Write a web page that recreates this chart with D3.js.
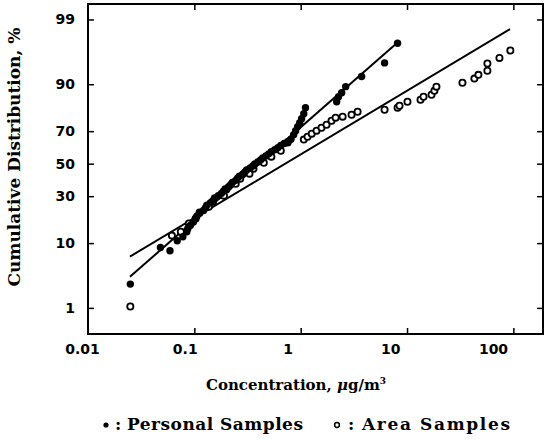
<!DOCTYPE html>
<html><head><meta charset="utf-8">
<script src="https://cdn.jsdelivr.net/npm/d3@7"></script>
<style>body{margin:0;background:#fff}svg{display:block}</style>
</head><body><svg id="c" width="544" height="440"></svg>
<script>
// ---- data ----
const xTicks = [0.01, 0.1, 1, 10, 100];
const xTickLabels = ["0.01", "0.1", "1", "10", "100"];
const yTicks = [1, 10, 30, 50, 70, 90, 99];
const seriesNames = ["Personal Samples", "Area Samples"];

const personalConc = [0.025, 0.048, 0.059, 0.069, 0.078,
  0.085, 0.087, 0.092, 0.098, 0.102, 0.106, 0.112, 0.122, 0.127, 0.131, 0.142, 0.150, 0.155, 0.168, 0.180, 0.188, 0.195, 0.210, 0.220, 0.228, 0.245, 0.255, 0.265, 0.285, 0.298, 0.310, 0.335, 0.355, 0.370, 0.395, 0.420, 0.440, 0.470, 0.500, 0.530, 0.570, 0.610, 0.650, 0.700, 0.760, 0.810,
  0.859, 0.897, 0.937, 0.98, 1.02, 1.07, 1.11, 2.18, 2.27, 2.43, 2.65, 3.74, 6.15, 8.15];
const personalPct  = [2.6, 8.8, 8.0, 10.7, 11.9,
  13.6, 14.8, 16.0, 17.3, 18.6, 19.9, 21.2, 22.5, 23.8, 25.1, 26.4, 27.7, 29.0, 30.3, 31.6, 32.9, 34.2, 35.5, 36.8, 38.1, 39.4, 40.7, 42.0, 43.3, 44.6, 45.9, 47.2, 48.5, 49.8, 51.1, 52.4, 53.7, 55.0, 56.3, 57.6, 58.9, 60.2, 61.5, 62.8, 64.0, 65.3,
  68.0, 70.3, 72.5, 74.6, 76.6, 79.0, 81.7, 84.1, 86.0, 87.4, 89.3, 92.0, 94.8, 97.4];

const areaConc = [0.025, 0.0615, 0.0746, 0.0887, 0.103, 0.112, 0.137, 0.150, 0.190, 0.200, 0.245, 0.270, 0.330, 0.360, 0.450, 0.530, 0.650, 0.755, 1.07, 1.16, 1.27, 1.41, 1.57, 1.75, 1.95, 2.13, 2.48, 3.01, 3.43, 6.15, 8.15, 8.5, 10.1, 13.4, 14.3, 17.0, 18.1, 18.9, 33.2, 43.0, 46.9, 57.0, 57.0, 74.0, 93.7];
const areaPct  = [1.06, 12.3, 13.6, 16.7, 18.8, 21.5, 24.4, 27.0, 30.3, 33.8, 37.3, 40.4, 43.6, 46.8, 50.6, 54.5, 58.3, 63.3, 65.1, 66.8, 68.6, 70.3, 71.9, 73.5, 75.6, 77.1, 77.6, 78.5, 79.9, 80.8, 81.7, 82.5, 84.1, 84.9, 86.0, 86.7, 88.0, 89.3, 90.4, 91.5, 92.4, 93.3, 94.7, 95.6, 96.6];

const personalFitConc = [0.0248, 8.0];
const personalFitPct  = [3.4, 97.4];
const areaFitConc = [0.0248, 93];
const areaFitPct  = [6.7, 98.5];

// ---- probit (inverse normal CDF, Acklam) ----
function probit(p){
  const a=[-3.969683028665376e+01,2.209460984245205e+02,-2.759285104469687e+02,1.383577518672690e+02,-3.066479806614716e+01,2.506628277459239e+00];
  const b=[-5.447609879822406e+01,1.615858368580409e+02,-1.556989798598866e+02,6.680131188771972e+01,-1.328068155288572e+01];
  const c=[-7.784894002430293e-03,-3.223964580411365e-01,-2.400758277161838e+00,-2.549732539343734e+00,4.374664141464968e+00,2.938163982698783e+00];
  const d=[7.784695709041462e-03,3.224671290700398e-01,2.445134137142996e+00,3.754408661907416e+00];
  const pl=0.02425, ph=1-pl; let q,r;
  if(p<pl){q=Math.sqrt(-2*Math.log(p));return (((((c[0]*q+c[1])*q+c[2])*q+c[3])*q+c[4])*q+c[5])/((((d[0]*q+d[1])*q+d[2])*q+d[3])*q+1);}
  if(p<=ph){q=p-0.5;r=q*q;return (((((a[0]*r+a[1])*r+a[2])*r+a[3])*r+a[4])*r+a[5])*q/(((((b[0]*r+b[1])*r+b[2])*r+b[3])*r+b[4])*r+1);}
  q=Math.sqrt(-2*Math.log(1-p));return -(((((c[0]*q+c[1])*q+c[2])*q+c[3])*q+c[4])*q+c[5])/((((d[0]*q+d[1])*q+d[2])*q+d[3])*q+1);
}

// ---- layout ----
const L=88, R=543, T=4, B=334;
const svg = d3.select('#c');
const x = d3.scaleLog().domain([0.01, 190]).range([L, R]);
const xLab = d3.scaleLog().domain([0.01, 100]).range([82, 493]); // label placement as printed
const yz = d3.scaleLinear().domain([probit(0.003), probit(0.995)]).range([B, T]);
const y = p => yz(probit(p/100));

const tickFont = "bold 14px 'DejaVu Sans'";
const serifFont = "'DejaVu Serif'";

// axes
const zT = yTicks.map(p => probit(p/100));
const gL = svg.append('g').attr('transform',`translate(${L},0)`)
  .call(d3.axisLeft(yz).tickValues(zT).tickFormat((d,i)=>yTicks[i]).tickSizeInner(-6).tickSizeOuter(0).tickPadding(13));
const gR = svg.append('g').attr('transform',`translate(${R},0)`)
  .call(d3.axisRight(yz).tickValues(zT).tickFormat('').tickSizeInner(-6).tickSizeOuter(0));
const gB = svg.append('g').attr('transform',`translate(0,${B})`)
  .call(d3.axisBottom(x).tickValues(xTicks.slice(1)).tickFormat('').tickSizeInner(-6).tickSizeOuter(0));
const gBL = svg.append('g').attr('transform',`translate(0,${B})`)
  .call(d3.axisBottom(xLab).tickValues(xTicks).tickFormat((d,i)=>xTickLabels[i]).tickSize(0).tickPadding(10));
gBL.selectAll('.tick line').remove();
const gT = svg.append('g').attr('transform',`translate(0,${T})`)
  .call(d3.axisTop(x).tickValues(xTicks.slice(1)).tickFormat('').tickSizeInner(-6).tickSizeOuter(0));
[gL,gR,gB,gBL,gT].forEach(g=>{
  g.select('.domain').remove();
  g.selectAll('.tick line').attr('stroke','#000').attr('stroke-width',1.5);
  g.selectAll('text').style('font',tickFont).attr('fill','#000');
});

svg.append('rect').attr('x',L).attr('y',T).attr('width',R-L).attr('height',B-T)
  .attr('fill','none').attr('stroke','#000').attr('stroke-width',2);

// fit lines
const line = d3.line().x(d=>x(d[0])).y(d=>y(d[1]));
svg.append('path').attr('d', line(d3.zip(personalFitConc, personalFitPct)))
  .attr('fill','none').attr('stroke','#000').attr('stroke-width',2);
svg.append('path').attr('d', line(d3.zip(areaFitConc, areaFitPct)))
  .attr('fill','none').attr('stroke','#000').attr('stroke-width',2);

// points
svg.append('g').selectAll('circle').data(d3.zip(areaConc, areaPct)).join('circle')
  .attr('cx',d=>x(d[0])).attr('cy',d=>y(d[1])).attr('r',3.1)
  .attr('fill','#fff').attr('stroke','#000').attr('stroke-width',1.8);
svg.append('g').selectAll('circle').data(d3.zip(personalConc, personalPct)).join('circle')
  .attr('cx',d=>x(d[0])).attr('cy',d=>y(d[1])).attr('r',3.7).attr('fill','#000');

// titles
svg.append('text').attr('x',296).attr('y',390).attr('text-anchor','middle')
  .style('font-family',serifFont).style('font-weight','bold').style('font-size','15px')
  .html('Concentration, <tspan font-style="italic">μ</tspan>g/m<tspan dy="-6" font-size="9px">3</tspan>');
svg.append('text').attr('transform','translate(20,157) rotate(-90)').attr('text-anchor','middle')
  .style('font-family',serifFont).style('font-weight','bold').style('font-size','17px')
  .text('Cumulative Distribution, %');

// legend
const lg = svg.append('g');
const legFont = g => g.style('font-family',serifFont).style('font-weight','bold').style('font-size','17px');
lg.append('circle').attr('cx',106).attr('cy',425).attr('r',2.6).attr('fill','#000');
lg.append('text').attr('x',115).attr('y',430).call(legFont).text(':');
lg.append('text').attr('x',127).attr('y',430).call(legFont)
  .attr('textLength',176).attr('lengthAdjust','spacing').text(seriesNames[0]);
lg.append('circle').attr('cx',337).attr('cy',425).attr('r',2.4).attr('fill','#fff').attr('stroke','#000').attr('stroke-width',1.5);
lg.append('text').attr('x',348).attr('y',430).call(legFont).text(':');
lg.append('text').attr('x',362).attr('y',430).call(legFont)
  .attr('textLength',148).attr('lengthAdjust','spacing').text(seriesNames[1]);
</script></body></html>
